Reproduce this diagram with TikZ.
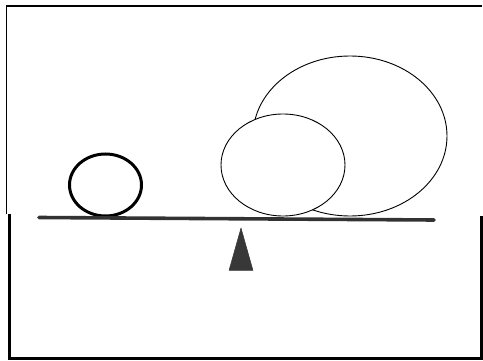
\documentclass[tikz,border=0pt]{standalone}
\begin{document}
\begin{tikzpicture}[x=1pt,y=-1pt,
  frameline/.style={black,line width=1.6pt},
  thinball/.style={draw=black,fill=white,line width=0.9pt},
  thickball/.style={draw=black,fill=white,line width=3pt},
  beam/.style={draw=black!80,line width=3.6pt,line cap=round},
  pivot/.style={fill=black!78,draw=black!78,line width=0.5pt,line join=round}]
\useasboundingbox (0,0) rectangle (483,361);
\fill[white] (0,0) rectangle (483,361);
% balls
\draw[thinball] (350,136) ellipse [x radius=97, y radius=80];
\draw[thinball] (283,165) ellipse [x radius=62, y radius=51];
\draw[thickball] (105.5,185) ellipse [x radius=36, y radius=31];
% beam and pivot
\draw[beam] (39,217.5) -- (434,220);
\draw[pivot] (241,228) -- (253,270.5) -- (229,270.5) -- cycle;
% frame
\draw[frameline] (6.5,214) -- (6.5,6) -- (482,6);
\draw[frameline,line width=2.2pt] (9.5,214) -- (9.5,358.5) -- (481.5,358.5) -- (481.5,216);
\end{tikzpicture}
\end{document}
